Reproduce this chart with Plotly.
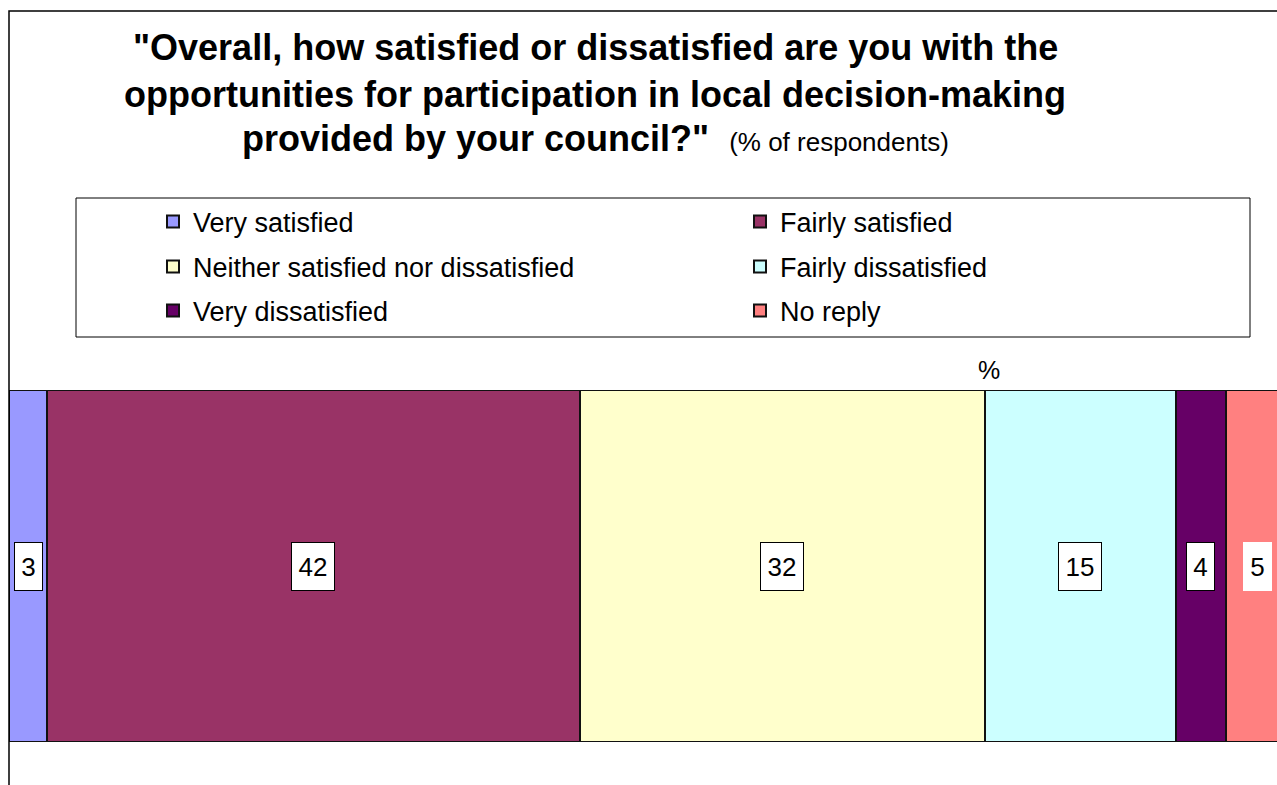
import plotly.graph_objects as go

# Survey responses (% of respondents)
categories = [
    "Very satisfied",
    "Fairly satisfied",
    "Neither satisfied nor dissatisfied",
    "Fairly dissatisfied",
    "Very dissatisfied",
    "No reply",
]
values = [3, 42, 32, 15, 4, 5]
colors = ["#9999FF", "#993366", "#FFFFCC", "#CCFFFF", "#660066", "#FF8080"]

W, H = 1277, 785
L, R, T, B = 9, 0, 390, 43
PW, PH = W - L - R, H - T - B
FONT = "Liberation Sans, Arial, sans-serif"


def px_x(x):
    return (x - L) / PW


def px_y(y):
    return (H - B - y) / PH


# legend grid: two columns, three rows (pixel anchors)
legend_cols = [153, 740]
legend_rows_y = [222, 267, 311]

fig = go.Figure()
legend_layout = {}
for i, (name, val, col) in enumerate(zip(categories, values, colors)):
    key = "legend" if i == 0 else f"legend{i + 1}"
    fig.add_trace(go.Bar(
        y=[""], x=[val], name=name, orientation="h",
        marker=dict(color=col, line=dict(color="#111111", width=2)),
        legend=key, hoverinfo="name+x",
    ))
    legend_layout[key] = dict(
        orientation="v", xanchor="left", yanchor="middle",
        x=px_x(legend_cols[i % 2]), y=px_y(legend_rows_y[i // 2]),
        bgcolor="rgba(0,0,0,0)", borderwidth=0,
        font=dict(family=FONT, size=27, color="black"),
        itemclick=False, itemdoubleclick=False,
    )

# value boxes centred on each segment
annotations = []
start = 0
for i, val in enumerate(values):
    centre = start + val / 2
    start += val
    txt = str(val)
    last = i == len(values) - 1
    annotations.append(dict(
        x=centre, xref="x", y=0.5, yref="paper", text=txt, showarrow=False,
        font=dict(family=FONT, size=26, color="black"),
        bgcolor="white", bordercolor="white" if last else "black",
        borderwidth=1, borderpad=0,
        width=12 + 15 * len(txt), height=47,
        xanchor="center", yanchor="middle",
    ))

# title lines
title_lines = [
    ("<b>\"Overall, how satisfied or dissatisfied are you with the</b>", 47),
    ("<b>opportunities for participation in local decision-making</b>", 94),
    ("<b>provided by your council?\"</b>  <span style='font-size:26px'>(% of respondents)</span>", 138),
]
for text, y in title_lines:
    annotations.append(dict(
        x=px_x(595), xref="paper", y=px_y(y), yref="paper", text=text,
        showarrow=False, font=dict(family=FONT, size=36, color="black"),
        xanchor="center", yanchor="middle",
    ))

# unit label above the bar
annotations.append(dict(
    x=px_x(989), xref="paper", y=px_y(370), yref="paper", text="%",
    showarrow=False, font=dict(family=FONT, size=25, color="black"),
    xanchor="center", yanchor="middle",
))

shapes = [
    # chart frame
    dict(type="rect", xref="paper", yref="paper",
         x0=px_x(9), x1=px_x(1300), y0=px_y(800), y1=px_y(11),
         line=dict(color="black", width=1.5), fillcolor="rgba(0,0,0,0)", layer="above"),
    # legend frame
    dict(type="rect", xref="paper", yref="paper",
         x0=px_x(76), x1=px_x(1250), y0=px_y(337), y1=px_y(198),
         line=dict(color="black", width=1), fillcolor="rgba(0,0,0,0)"),
]

fig.update_layout(
    width=W, height=H,
    margin=dict(l=L, r=R, t=T, b=B, pad=0),
    paper_bgcolor="white", plot_bgcolor="white",
    barmode="stack", bargap=0,
    showlegend=True,
    xaxis=dict(range=[0, 100], visible=False, fixedrange=True),
    yaxis=dict(visible=False, range=[-0.5, 0.5], fixedrange=True),
    annotations=annotations,
    shapes=shapes,
    font=dict(family=FONT),
    **legend_layout,
)

fig.write_html("out.html")
